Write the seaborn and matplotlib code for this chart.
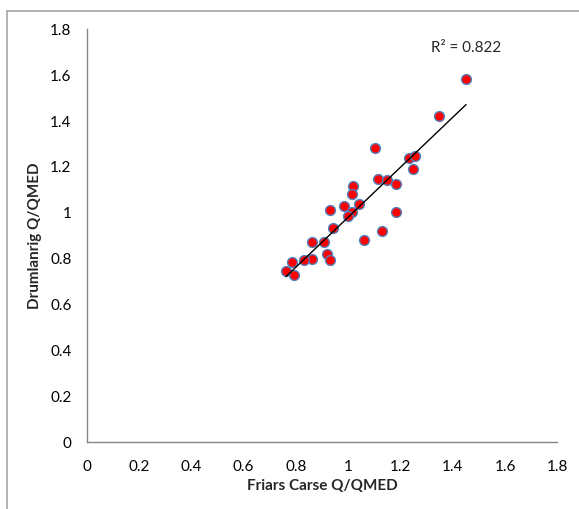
# ---------------- importing modules ----------------
import numpy as np
import pandas as pd
import matplotlib
matplotlib.use('Agg')
import matplotlib.pyplot as plt
from matplotlib.ticker import FuncFormatter, MultipleLocator
from matplotlib.lines import Line2D
import seaborn as sns

sns.set_style('white')
plt.rcParams['font.family'] = ['Lato', 'DejaVu Sans']

# ---------------- data ----------------
friars_carse = [1.451, 1.349, 1.104, 1.234, 1.256, 1.248, 1.113, 1.150, 1.183, 1.018,
                1.016, 0.984, 1.041, 0.931, 1.014, 0.998, 1.183, 0.943, 1.129, 1.061,
                0.863, 0.909, 0.919, 0.931, 0.863, 0.831, 0.785, 0.762, 0.794]
drumlanrig = [1.582, 1.420, 1.282, 1.237, 1.249, 1.192, 1.146, 1.144, 1.125, 1.116,
              1.080, 1.031, 1.038, 1.010, 1.004, 0.987, 1.003, 0.933, 0.919, 0.882,
              0.871, 0.874, 0.819, 0.792, 0.800, 0.794, 0.784, 0.746, 0.728]
r2_label = 'R² = 0.822'
x_title = 'Friars Carse Q/QMED'
y_title = 'Drumlanrig Q/QMED'

df = pd.DataFrame({'fc': friars_carse, 'dr': drumlanrig})

# ---------------- plot ----------------
fig = plt.figure(figsize=(5.79, 5.09), dpi=100)
ax = fig.add_axes([86.7 / 579, 67 / 509, 470.6 / 579, 412.7 / 509])

sns.regplot(data=df, x='fc', y='dr', ax=ax, ci=None, truncate=True,
            scatter_kws=dict(s=50, color='#ff0000', edgecolor='#4f81bd', linewidths=1.0, alpha=1),
            line_kws=dict(color='black', linewidth=1.0))

ax.set_xlim(0, 1.8)
ax.set_ylim(0, 1.8)
ax.xaxis.set_major_locator(MultipleLocator(0.2))
ax.yaxis.set_major_locator(MultipleLocator(0.2))
fmt = FuncFormatter(lambda v, p: f'{round(v, 1):g}')
ax.xaxis.set_major_formatter(fmt)
ax.yaxis.set_major_formatter(fmt)

for side in ['top', 'right']:
    ax.spines[side].set_visible(False)
for side in ['left', 'bottom']:
    ax.spines[side].set_color('#868686')
    ax.spines[side].set_linewidth(1.0)
ax.tick_params(axis='both', direction='out', length=5, width=1.0, color='#868686',
               labelsize=11, labelcolor='black', pad=6)
ax.tick_params(axis='x', pad=8)

ax.set_xlabel(x_title, fontsize=11, fontweight='bold')
ax.set_ylabel(y_title, fontsize=11, fontweight='bold')
ax.xaxis.set_label_coords(0.5, -0.09)
ax.yaxis.set_label_coords(-0.095, 0.5)

ax.text(1.453, 1.718, r2_label, ha='center', va='center', fontsize=11)

# chart border (only left and top visible in the crop)
fig.add_artist(Line2D([7.5 / 579, 7.5 / 579], [0, 1 - 10.5 / 509], color='#a6a6a6', lw=1.2))
fig.add_artist(Line2D([7.5 / 579, 1], [1 - 10.5 / 509, 1 - 10.5 / 509], color='#a6a6a6', lw=1.2))

plt.savefig('out.png', dpi=100)
